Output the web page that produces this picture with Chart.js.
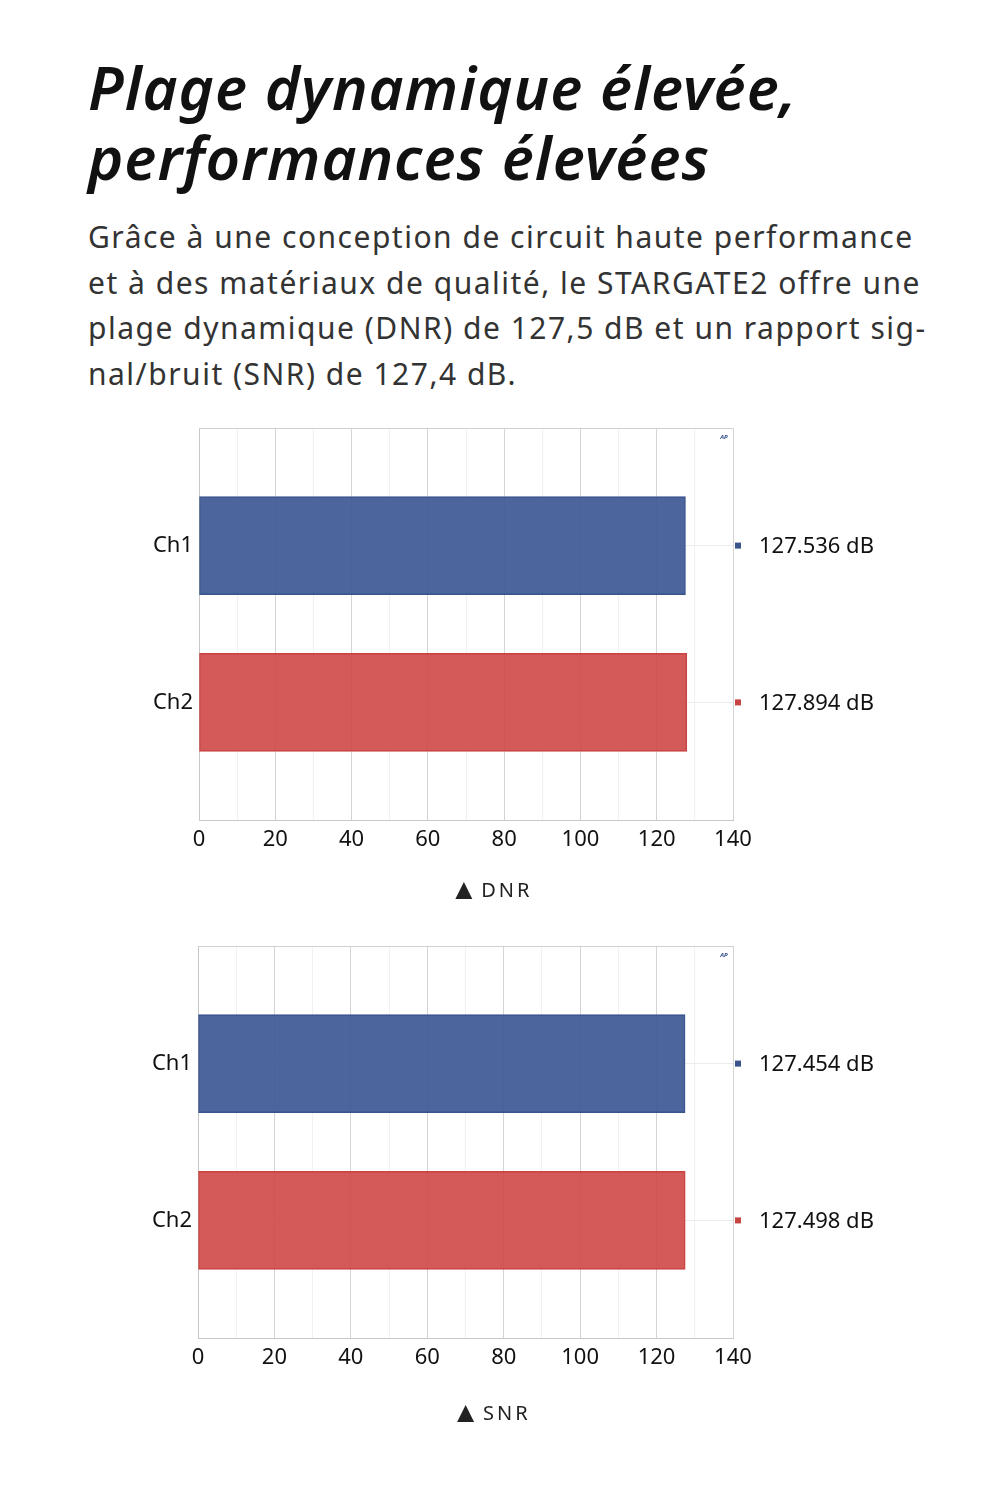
<!DOCTYPE html>
<html lang="fr">
<head>
<meta charset="utf-8">
<script src="https://cdn.jsdelivr.net/npm/chart.js@4.4.1/dist/chart.umd.min.js"></script>
<style>
  html, body { margin: 0; padding: 0; background: #fff; }
  body { width: 1000px; height: 1500px; position: relative; overflow: hidden; }
  .titre {
    position: absolute; left: 88px; top: 52px; margin: 0;
    font-family: "Noto Sans", sans-serif; font-style: italic; font-weight: 600;
    font-size: 60px; line-height: 70px; color: #111; letter-spacing: 1px;
  }
  .texte {
    position: absolute; left: 88px; top: 214px; margin: 0;
    font-family: "Noto Sans", sans-serif; font-weight: 400;
    font-size: 30px; line-height: 45.5px; color: #333; white-space: nowrap; letter-spacing: 1.5px;
  }
  .boite { position: absolute; left: 0; width: 1000px; }
  .legende {
    position: absolute; left: 0; width: 982px; text-align: center;
    font-family: "Noto Sans", sans-serif; font-size: 20px; color: #222; letter-spacing: 3px;
  }
  .legende span { font-size: 29px; letter-spacing: 3px; vertical-align: -2px; line-height: 20px; }
</style>
</head>
<body>
<h1 class="titre">Plage dynamique élevée,<br>performances élevées</h1>
<p class="texte">Grâce à une conception de circuit haute performance<br>et à des matériaux de qualité, le STARGATE2 offre une<br>plage dynamique (DNR) de 127,5 dB et un rapport sig-<br>nal/bruit (SNR) de 127,4 dB.</p>

<div class="boite" style="top:400px;height:480px"><canvas id="chartDnr"></canvas></div>
<div class="legende" style="top:876px"><span>▲</span>DNR</div>

<div class="boite" style="top:918px;height:479px"><canvas id="chartSnr"></canvas></div>
<div class="legende" style="top:1399px"><span>▲</span>SNR</div>

<script>
// données
const canaux = ['Ch1', 'Ch2'];
const valeursDnr = [127.536, 127.894];
const valeursSnr = [127.454, 127.498];
const couleursBarres = ['rgba(62, 89, 148, 0.93)', 'rgba(206, 72, 70, 0.9)'];
const couleursBord = ['#3a548c', '#c64543'];
const axeXMin = 0;
const axeXMax = 140;

// étiquettes de valeur à droite du graphique (petit carré + texte)
const pluginValeurs = {
  id: 'valeurs',
  afterDraw(chart) {
    const ctx = chart.ctx;
    const area = chart.chartArea;
    const echelleY = chart.scales.y;
    ctx.save();
    chart.data.datasets[0].data.forEach((point, i) => {
      const y = echelleY.getPixelForValue(point.y);
      ctx.fillStyle = couleursBord[i];
      ctx.fillRect(area.right + 2, y - 3, 6, 6);
      ctx.fillStyle = '#111';
      ctx.font = '22px "Noto Sans", sans-serif';
      ctx.textAlign = 'left';
      ctx.textBaseline = 'middle';
      ctx.fillText(point.x.toFixed(3) + ' dB', area.right + 26, y + 1);
    });
    // petit logo AP dans le coin
    ctx.fillStyle = '#2b4a86';
    ctx.font = 'italic bold 6px "Noto Sans", sans-serif';
    ctx.textAlign = 'center';
    ctx.fillText('AP', area.right - 9, area.top + 9);
    ctx.restore();
  }
};

function creerGraphique(idCanvas, valeurs, largeurAxeY) {
  const contexte = document.getElementById(idCanvas);
  const hauteur = contexte.parentNode.clientHeight;
  return new Chart(contexte, {
    type: 'bar',
    data: {
      datasets: [{
        data: valeurs.map((v, i) => ({ x: v, y: i })),
        backgroundColor: couleursBarres,
        borderColor: couleursBord,
        borderWidth: 1,
        borderSkipped: false,
        barThickness: 98,
      }],
    },
    options: {
      indexAxis: 'y',
      responsive: true,
      maintainAspectRatio: false,
      animation: false,
      layout: { padding: { left: 0, right: 267, top: 28, bottom: 0 } },
      plugins: { legend: { display: false }, tooltip: { enabled: false } },
      scales: {
        x: {
          type: 'linear',
          min: axeXMin,
          max: axeXMax,
          afterFit: (scale) => { scale.height = hauteur - 28 - 392; },
          ticks: {
            stepSize: 10,
            padding: 7,
            color: '#111',
            font: { family: 'Noto Sans', size: 22 },
            maxRotation: 0,
            autoSkip: false,
            callback: (v) => (v % 20 === 0 ? v : ''),
          },
          grid: {
            drawTicks: false,
            color: (c) => (c.tick && c.tick.value % 20 === 0 ? '#d4d4d4' : '#f1f1f1'),
          },
          border: { color: '#c8c8c8' },
        },
        y: {
          type: 'linear',
          offset: false,
          reverse: true,
          min: -0.75,
          max: canaux.length - 0.25,
          afterFit: (scale) => { scale.width = largeurAxeY; },
          afterBuildTicks: (scale) => {
            scale.ticks = [-0.75, 0, 1, canaux.length - 0.25].map(v => ({ value: v }));
          },
          ticks: {
            padding: 6,
            color: '#111',
            font: { family: 'Noto Sans', size: 22 },
            callback: (v) => (Number.isInteger(v) ? canaux[v] : ''),
          },
          grid: {
            offset: false,
            drawTicks: false,
            color: (c) => (c.tick && Number.isInteger(c.tick.value) ? '#ececec' : '#d0d0d0'),
          },
          border: { color: '#c8c8c8' },
        },
      },
    },
    plugins: [pluginValeurs],
  });
}

creerGraphique('chartDnr', valeursDnr, 199);
creerGraphique('chartSnr', valeursSnr, 198);
</script>
</body>
</html>
